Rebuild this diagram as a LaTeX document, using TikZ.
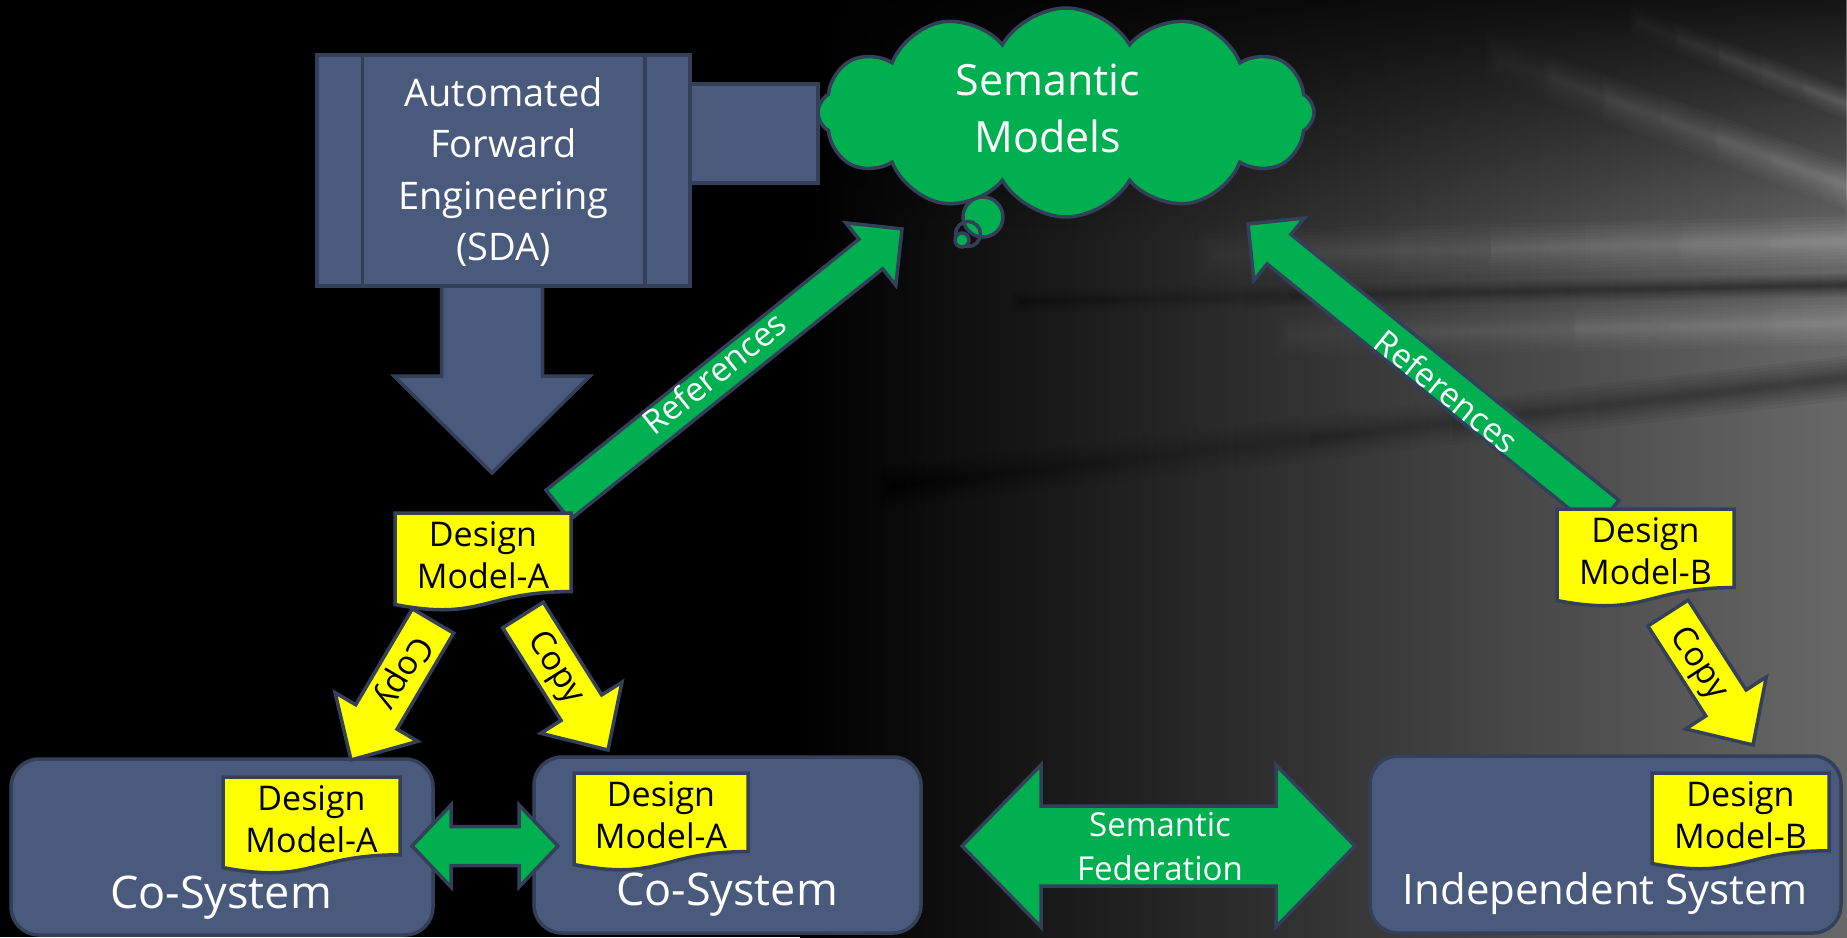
\documentclass[tikz,border=0pt]{standalone}
\usepackage{fontspec}
\setmainfont{Open Sans}
\usetikzlibrary{calc,shapes.symbols,fadings}
\tikzfading[name=topdark, top color=transparent!0, bottom color=transparent!100]
\tikzfading[name=tleft, left color=transparent!100, right color=transparent!0]
\definecolor{slate}{RGB}{74,90,124}
\definecolor{slateline}{RGB}{52,64,90}
\definecolor{pgreen}{RGB}{0,176,80}
\definecolor{pyellow}{RGB}{255,255,0}
\definecolor{bgmid}{RGB}{58,58,58}
\definecolor{bgright}{RGB}{104,104,104}

% block arrow: style, tail coord, tip coord, half shaft, half head, head length
\newcommand\blockarrow[6]{%
  \coordinate (ba-n) at ($(#3)!#6!(#2)$);
  \draw[#1] ($(#2)!#4!90:(#3)$) -- ($(ba-n)!#4!90:(#3)$) -- ($(ba-n)!#5!90:(#3)$) -- (#3)
    -- ($(ba-n)!#5!-90:(#3)$) -- ($(ba-n)!#4!-90:(#3)$) -- ($(#2)!#4!-90:(#3)$) -- cycle;
}
% double arrow: style, left tip, right tip, half shaft, half head, head length
\newcommand\dblarrow[6]{%
  \coordinate (da-l) at ($(#2)!#6!(#3)$);
  \coordinate (da-r) at ($(#3)!#6!(#2)$);
  \draw[#1] (#2) -- ($(da-l)!#5!90:(#3)$) -- ($(da-l)!#4!90:(#3)$) -- ($(da-r)!#4!-90:(#2)$)
    -- ($(da-r)!#5!-90:(#2)$) -- (#3) -- ($(da-r)!#5!90:(#2)$) -- ($(da-r)!#4!90:(#2)$)
    -- ($(da-l)!#4!-90:(#3)$) -- ($(da-l)!#5!-90:(#3)$) -- cycle;
}
% document shape: name, x, y, w, h, text
\newcommand\docshape[6]{%
  \draw[docsty] (#2,#3) -- ({#2+#4},#3) -- ({#2+#4},{#3+0.802*#5})
    .. controls ({#2+0.5*#4},{#3+0.802*#5}) and ({#2+0.5*#4},{#3+1.1075*#5}) .. (#2,{#3+0.934*#5}) -- cycle;
  \node[doctext] (#1) at ({#2+0.5*#4},{#3+0.43*#5}) {#6};
}
% soft streak: colour, opacity per layer, width, path
\newcommand\streak[4]{%
  \foreach \ww in {1,0.85,0.7,0.56,0.43,0.32,0.22,0.12}{%
    \pgfmathsetlengthmacro\lw{\ww*#3}%
    \draw[#1, opacity=#2, line width=\lw, path fading=tleft] #4;}%
}

\begin{document}
\begin{tikzpicture}[x=1pt,y=-1pt,
  outl/.style={draw=slateline, line width=3.5pt, line join=miter},
  slatebox/.style={outl, fill=slate, inner sep=0pt},
  sysbox/.style={slatebox, rounded corners=28pt},
  garrow/.style={outl, fill=pgreen},
  yarrow/.style={outl, fill=pyellow},
  sarrow/.style={outl, fill=slate},
  docsty/.style={outl, fill=pyellow},
  doctext/.style={font=\fontsize{34}{42}\selectfont, text=black, align=center, inner sep=0pt},
  whitetext/.style={text=white, align=center, inner sep=0pt},
  arrowlabel/.style={font=\fontsize{33.5}{40}\selectfont, inner sep=0pt},
]
\useasboundingbox (0,0) rectangle (1847,937);

% ---------- background ----------
\begin{scope}
\clip (0,0) rectangle (1847,937);
\fill[black] (0,0) rectangle (1847,937);
\shade[left color=black, middle color=bgmid, right color=bgright] (800,0) rectangle (1847,937);
\fill[black, opacity=.8, path fading=topdark] (800,0) rectangle (1847,240);
\streak{white}{0.035}{44pt}{(1420,30) -- (1900,205)}
\streak{white}{0.03}{30pt}{(1580,0) -- (1900,125)}
\streak{white}{0.035}{50pt}{(1080,258) -- (1900,240)}
\streak{black}{0.08}{24pt}{(1000,302) -- (1900,284)}
\streak{white}{0.03}{44pt}{(1150,338) -- (1900,322)}
\streak{black}{0.06}{44pt}{(860,490) -- (1900,372)}
\end{scope}

% ---------- SDA block ----------
\node[slatebox, minimum width=128pt, minimum height=99pt] (bar) at (754,133.5) {};
\coordinate (sdaT) at (492,270);
\coordinate (sdaP) at (492,473);
\blockarrow{sarrow}{sdaT}{sdaP}{50.5pt}{98pt}{97pt}
\node[slatebox, minimum width=373pt, minimum height=231pt] (sda) at (503.5,170.5) {};
\draw[outl] ($(sda.north west)+(47,0)$) -- ($(sda.south west)+(47,0)$);
\draw[outl] ($(sda.north east)+(-47,0)$) -- ($(sda.south east)+(-47,0)$);
\node[whitetext, font=\fontsize{38}{51.5}\selectfont] (sdatext) at (503.5,172) {Automated\\Forward\\Engineering\\(SDA)};

% ---------- References arrows ----------
\coordinate (refLt) at (558,505);
\coordinate (refLp) at (902,229);
\blockarrow{garrow}{refLt}{refLp}{19pt}{40pt}{40pt}
\node[arrowlabel, text=white, rotate=38.7] (refL) at (714,373) {References};
\coordinate (refRt) at (1607,515);
\coordinate (refRp) at (1248,224);
\blockarrow{garrow}{refRt}{refRp}{19pt}{40pt}{40pt}
\node[arrowlabel, text=white, rotate=-39] (refR) at (1447,391) {References};

% ---------- cloud ----------
\node[cloud, draw=slateline, fill=pgreen, line width=3.5pt, cloud puffs=12, cloud puff arc=120,
      cloud ignores aspect, minimum width=496pt, minimum height=209pt, inner sep=0pt] (cloud) at (1066,112.5) {};
\node[whitetext, font=\fontsize{43}{57}\selectfont] (cloudtext) at (1048,108) {Semantic\\Models};
\draw[outl, fill=pgreen] (983,217) circle (20);
\draw[outl] (968,234) circle (12.5);
\draw[outl, fill=pgreen] (962,240) circle (7);

% ---------- Copy arrows ----------
\coordinate (cpLt) at (433,621);
\coordinate (cpLp) at (351,760);
\coordinate (cpRt) at (523,615);
\coordinate (cpRp) at (608,750);
\coordinate (cpBt) at (1668,613);
\coordinate (cpBp) at (1753,745);

% ---------- system boxes ----------
\node[sysbox, minimum width=422pt, minimum height=176pt] (cs1) at (222,847) {};
\node[sysbox, minimum width=387pt, minimum height=176pt] (cs2) at (727.5,845) {};
\node[sysbox, minimum width=471pt, minimum height=177pt] (ind) at (1605.5,844.5) {};
\node[whitetext, font=\fontsize{45}{50}\selectfont, anchor=base] (cs1text) at (221,908) {Co-System};
\node[whitetext, font=\fontsize{45}{50}\selectfont, anchor=base] (cs2text) at (727,905) {Co-System};
\node[whitetext, font=\fontsize{42}{50}\selectfont, anchor=base] (indtext) at (1605,904) {Independent System};

\blockarrow{yarrow}{cpLt}{cpLp}{24pt}{48pt}{50pt}
\node[arrowlabel, text=black, rotate=-120.5] (cpLtext) at (403,672) {Copy};
\blockarrow{yarrow}{cpRt}{cpRp}{24pt}{48pt}{50pt}
\node[arrowlabel, text=black, rotate=-57.8] (cpRtext) at (555,668) {Copy};
\blockarrow{yarrow}{cpBt}{cpBp}{24pt}{48pt}{50pt}
\node[arrowlabel, text=black, rotate=-57] (cpBtext) at (1698,664) {Copy};

% ---------- design model documents ----------
\docshape{dmAtop}{395}{513}{176}{98}{Design\\Model-A}
\docshape{dmBtop}{1557}{509}{177}{98}{Design\\Model-B}
\docshape{dmA1}{223}{777}{177}{97}{Design\\Model-A}
\docshape{dmA2}{574}{773}{174}{98}{Design\\Model-A}
\docshape{dmB2}{1652}{773}{177}{97}{Design\\Model-B}

% ---------- double arrows ----------
\coordinate (coL) at (412,846);
\coordinate (coR) at (558,846);
\dblarrow{garrow}{coL}{coR}{19.5pt}{41pt}{39pt}
\coordinate (sfL) at (962,846);
\coordinate (sfR) at (1355,846);
\dblarrow{garrow}{sfL}{sfR}{40pt}{81pt}{79pt}
\node[whitetext, font=\fontsize{33}{44}\selectfont] (sftext) at (1160,847) {Semantic\\Federation};
\end{tikzpicture}
\end{document}
